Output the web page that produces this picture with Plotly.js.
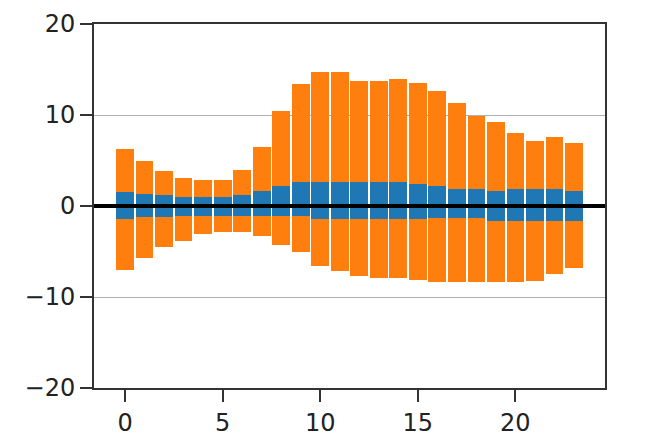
<!DOCTYPE html>
<html>
<head>
<meta charset="utf-8">
<script src="https://cdn.plot.ly/plotly-3.0.1.min.js"></script>
<style>html,body{margin:0;padding:0;background:#fff;}#chart{width:660px;height:437px;}</style>
</head>
<body>
<div id="chart"></div>
<script>
const hours = [0,1,2,3,4,5,6,7,8,9,10,11,12,13,14,15,16,17,18,19,20,21,22,23];
const orangeUp = [6.3, 4.9, 3.8, 3.1, 2.85, 2.85, 4.0, 6.5, 10.4, 13.4, 14.7, 14.7, 13.7, 13.7, 14.0, 13.55, 12.6, 11.3, 9.9, 9.2, 8.0, 7.1, 7.55, 6.9];
const orangeDown = [-7.0, -5.7, -4.45, -3.8, -3.1, -2.9, -2.9, -3.35, -4.25, -5.1, -6.55, -7.1, -7.7, -7.95, -7.95, -8.15, -8.4, -8.4, -8.4, -8.4, -8.4, -8.2, -7.5, -6.8];
const blueUp = [1.55, 1.3, 1.2, 0.97, 0.97, 0.97, 1.2, 1.65, 2.15, 2.63, 2.63, 2.63, 2.63, 2.63, 2.63, 2.4, 2.15, 1.9, 1.9, 1.6, 1.9, 1.9, 1.9, 1.65];
const blueDown = [-1.4, -1.2, -1.2, -1.1, -1.1, -1.1, -1.1, -1.15, -1.15, -1.15, -1.45, -1.45, -1.45, -1.45, -1.45, -1.45, -1.3, -1.3, -1.3, -1.6, -1.6, -1.6, -1.6, -1.6];
const yTicks = [-20, -10, 0, 10, 20];
const xTicks = [0, 5, 10, 15, 20];

const ORANGE = '#ff7f0e', BLUE = '#1f77b4';
const mk = (y, c) => ({type:'bar', x:hours, y:y, width:0.9, marker:{color:c, line:{width:0}}, hoverinfo:'skip', showlegend:false});
const data = [mk(orangeUp, ORANGE), mk(orangeDown, ORANGE), mk(blueUp, BLUE), mk(blueDown, BLUE)];

const axisCommon = {
  showline:true, mirror:true, linecolor:'#333', linewidth:2,
  ticks:'outside', ticklen:12, tickwidth:2, tickcolor:'#333',
  tickfont:{family:'DejaVu Sans', size:24, color:'#222'},
  zeroline:false
};
const layout = {
  width:660, height:437,
  margin:{l:94, r:55, t:24, b:49},
  paper_bgcolor:'#fff', plot_bgcolor:'#fff',
  barmode:'overlay', bargap:0,
  xaxis: Object.assign({}, axisCommon, {range:[-1.6, 24.6], tickvals:xTicks, showgrid:false}),
  yaxis: Object.assign({}, axisCommon, {range:[-20, 20], tickvals:yTicks, showgrid:true, gridcolor:'#b0b0b0', gridwidth:1}),
  shapes:[{type:'line', xref:'paper', yref:'y', x0:0, x1:1, y0:0, y1:0, line:{color:'#000', width:4}, layer:'above'}]
};
Plotly.newPlot('chart', data, layout, {staticPlot:true});
</script>
</body>
</html>
